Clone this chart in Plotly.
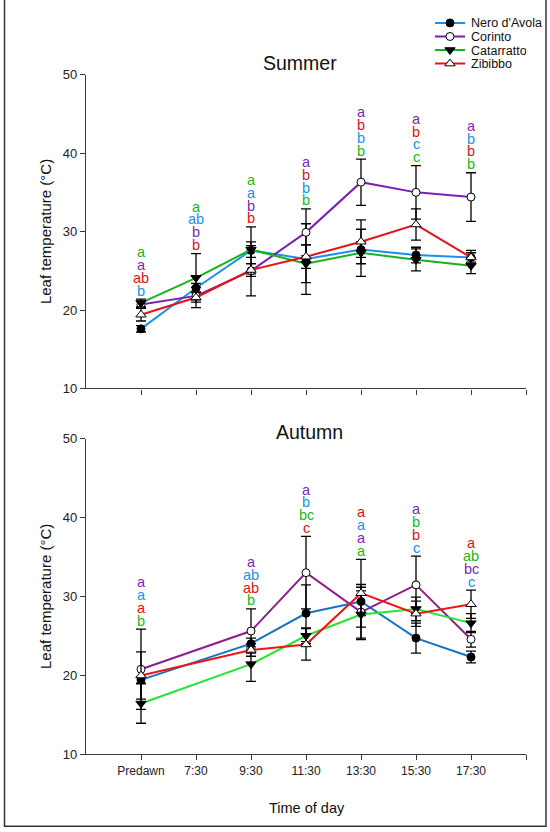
import plotly.graph_objects as go

# ---------------- data ----------------
times = ["Predawn", "7:30", "9:30", "11:30", "13:30", "15:30", "17:30"]
cultivars = ["Nero d'Avola", "Corinto", "Catarratto", "Zibibbo"]

summer_nero = [17.6, 22.8, 27.6, 26.5, 27.7, 27.0, 26.7]
summer_nero_se = [0.4, 0.6, 3.0, 4.5, 1.0, 1.0, 0.9]
summer_corinto = [20.7, 21.8, 25.0, 29.9, 36.3, 35.0, 34.4]
summer_corinto_se = [0.4, 0.5, 3.2, 3.0, 2.95, 3.4, 3.1]
summer_catarratto = [20.9, 24.1, 27.7, 25.9, 27.3, 26.4, 25.65]
summer_catarratto_se = [0.5, 3.1, 1.0, 2.4, 3.0, 1.4, 1.0]
summer_zibibbo = [19.4, 21.6, 25.1, 26.8, 28.7, 30.9, 26.7]
summer_zibibbo_se = [0.8, 1.3, 0.8, 1.5, 2.8, 2.0, 0.6]

autumn_nero = [19.4, None, 24.0, 27.85, 29.35, 24.7, 22.3]
autumn_nero_se = [0.4, None, 0.7, 3.6, 1.8, 1.9, 0.75]
autumn_corinto = [20.75, None, 25.6, 33.0, 28.0, 31.45, 24.55]
autumn_corinto_se = [5.1, None, 2.8, 4.6, 3.5, 3.65, 1.0]
autumn_catarratto = [16.4, None, 21.4, 25.0, 27.7, 28.4, 26.6]
autumn_catarratto_se = [2.5, None, 2.2, 1.0, 3.0, 1.5, 1.2]
autumn_zibibbo = [19.95, None, 23.2, 23.9, 30.4, 27.8, 29.0]
autumn_zibibbo_se = [3.0, None, 0.8, 2.0, 4.3, 1.6, 1.8]

# significance letters, top to bottom, per time point: (letter, cultivar index)
summer_letters = [
    [("a", 2), ("a", 1), ("ab", 3), ("b", 0)],
    [("a", 2), ("ab", 0), ("b", 1), ("b", 3)],
    [("a", 2), ("a", 0), ("b", 1), ("b", 3)],
    [("a", 1), ("b", 3), ("b", 0), ("b", 2)],
    [("a", 1), ("b", 3), ("b", 0), ("b", 2)],
    [("a", 1), ("b", 3), ("c", 0), ("c", 2)],
    [("a", 1), ("b", 0), ("b", 3), ("b", 2)],
]
autumn_letters = [
    [("a", 1), ("a", 0), ("a", 3), ("b", 2)],
    None,
    [("a", 1), ("ab", 0), ("ab", 3), ("b", 2)],
    [("a", 1), ("b", 0), ("bc", 2), ("c", 3)],
    [("a", 3), ("a", 0), ("a", 1), ("a", 2)],
    [("a", 1), ("b", 2), ("b", 3), ("c", 0)],
    [("a", 3), ("ab", 2), ("bc", 1), ("c", 0)],
]

y_ticks = [10, 20, 30, 40, 50]

# ---------------- styles ----------------
FONT = "Arial, Liberation Sans, sans-serif"
AX = "#3a3a3a"
summer_colors = ["#1E90E8", "#7B1FB5", "#14B41E", "#E3121B"]
autumn_colors = ["#1673C4", "#8E1E8E", "#22E632", "#F01414"]
letter_colors = ["#1A90F0", "#7A2AB0", "#18B818", "#D81414"]
symbols = ["circle", "circle", "triangle-down", "triangle-up"]
fills = ["black", "white", "black", "white"]
msizes = [8, 8, 9, 9]

W, H, B, T = 550, 832, 78, 5
PB = H - B          # pixel row of plot-area bottom
PH = H - B - T      # plot-area height
L, R = 86, 24


def fy(px):
    return (PB - px) / PH


def fx(px):
    return (px - L) / (W - L - R)


xs = list(range(len(times)))

fig = go.Figure()

panels = [
    ("x", "y", [summer_nero, summer_corinto, summer_catarratto, summer_zibibbo],
     [summer_nero_se, summer_corinto_se, summer_catarratto_se, summer_zibibbo_se],
     summer_colors, summer_letters),
    ("x2", "y2", [autumn_nero, autumn_corinto, autumn_catarratto, autumn_zibibbo],
     [autumn_nero_se, autumn_corinto_se, autumn_catarratto_se, autumn_zibibbo_se],
     autumn_colors, autumn_letters),
]

annotations = []
for xa, ya, vals, ses, cols, letters in panels:
    for i, name in enumerate(cultivars):
        fig.add_trace(go.Scatter(
            x=xs, y=vals[i], xaxis=xa, yaxis=ya, mode="lines+markers",
            connectgaps=True, showlegend=False, name=name,
            line=dict(color=cols[i], width=2),
            marker=dict(symbol=symbols[i], size=msizes[i], color=fills[i],
                        line=dict(color="black", width=1)),
            error_y=dict(type="data", array=ses[i], color="black",
                         thickness=1.3, width=5),
        ))
    for t, rows in enumerate(letters):
        if rows is None:
            continue
        tops = [vals[i][t] + ses[i][t] for i in range(4) if vals[i][t] is not None]
        top = max(tops)
        n = len(rows)
        for k, (lt, ci) in enumerate(rows):
            annotations.append(dict(
                x=xs[t], y=top, xref=xa, yref=ya, text=lt, showarrow=False,
                yanchor="middle", xanchor="center", height=12,
                yshift=8.5 + 12.8 * (n - 1 - k),
                font=dict(family=FONT, size=14.5, color=letter_colors[ci]),
            ))

# custom legend on a hidden axis
for i, name in enumerate(cultivars):
    fig.add_trace(go.Scatter(
        x=[0, 1], y=[i, i], xaxis="x3", yaxis="y3", mode="lines",
        line=dict(color=summer_colors[i], width=2), showlegend=False,
        hoverinfo="skip"))
    fig.add_trace(go.Scatter(
        x=[0.5], y=[i], xaxis="x3", yaxis="y3", mode="markers",
        marker=dict(symbol=symbols[i], size=msizes[i], color=fills[i],
                    line=dict(color="black", width=1)),
        showlegend=False, hoverinfo="skip"))
    annotations.append(dict(
        x=1, y=i, xref="x3", yref="y3", text=name, showarrow=False,
        xanchor="left", yanchor="middle", xshift=4, height=13,
        font=dict(family=FONT, size=12.5, color="#111")))

# titles
annotations += [
    dict(x=fx(299.7), y=fy(56), xref="paper", yref="paper", text="Summer",
         showarrow=False, xanchor="center", yanchor="middle",
         font=dict(family=FONT, size=19.5, color="#111")),
    dict(x=fx(309), y=fy(429), xref="paper", yref="paper", text="Autumn",
         showarrow=False, xanchor="center", yanchor="middle",
         font=dict(family=FONT, size=19.5, color="#111")),
    dict(x=fx(45.5), y=fy((68.3 + 385) / 2), xref="paper", yref="paper",
         text="Leaf temperature (°C)", textangle=-90, showarrow=False,
         xanchor="center", yanchor="middle",
         font=dict(family=FONT, size=15, color="#111")),
    dict(x=fx(45.5), y=fy((435.7 + 754.3) / 2), xref="paper", yref="paper",
         text="Leaf temperature (°C)", textangle=-90, showarrow=False,
         xanchor="center", yanchor="middle",
         font=dict(family=FONT, size=15, color="#111")),
    dict(x=fx(306.7), y=fy(809), xref="paper", yref="paper",
         text="Time of day", showarrow=False,
         xanchor="center", yanchor="middle",
         font=dict(family=FONT, size=14.5, color="#111")),
]

xaxis_common = dict(range=[-1, len(times)], tickvals=list(range(len(times) + 1)),
                    ticktext=times + [""], showline=True, linecolor=AX,
                    linewidth=1.3, ticks="outside", ticklen=5, tickwidth=1.2,
                    tickcolor=AX, showgrid=False, zeroline=False,
                    tickfont=dict(family=FONT, size=12, color="#222"))
yaxis_common = dict(range=[10, 50], tickvals=y_ticks, showline=True, linecolor=AX,
                    linewidth=1.3, ticks="outside", ticklen=5, tickwidth=1.2,
                    tickcolor=AX, showgrid=False, zeroline=False,
                    tickfont=dict(family=FONT, size=13, color="#222"))

bx0, bx1, by0 = fx(4.5), fx(546), fy(827)
fig.update_layout(
    width=W, height=H, margin=dict(l=L, r=R, t=T, b=B),
    paper_bgcolor="white", plot_bgcolor="white",
    xaxis=dict(**xaxis_common, domain=[0, 1], anchor="y", showticklabels=False),
    yaxis=dict(**yaxis_common, domain=[fy(385), fy(68.3)], anchor="x"),
    xaxis2=dict(**xaxis_common, domain=[0, 1], anchor="y2"),
    yaxis2=dict(**yaxis_common, domain=[0, fy(435.7)], anchor="x2"),
    xaxis3=dict(domain=[fx(435), fx(465)], range=[0, 1], visible=False,
                anchor="y3", fixedrange=True),
    yaxis3=dict(domain=[fy(63.9), fy(9.2)], range=[3.5, -0.5], visible=False,
                anchor="x3", autorange=False, fixedrange=True),
    annotations=annotations,
    shapes=[dict(type="path", xref="paper", yref="paper",
                 path=f"M {bx0},1.05 L {bx0},{by0} L {bx1},{by0} L {bx1},1.05",
                 line=dict(color="#333", width=1.5))],
    showlegend=False,
)

fig.write_html("out.html", config={"displayModeBar": False},
               post_script="document.body.style.margin='0px';")
